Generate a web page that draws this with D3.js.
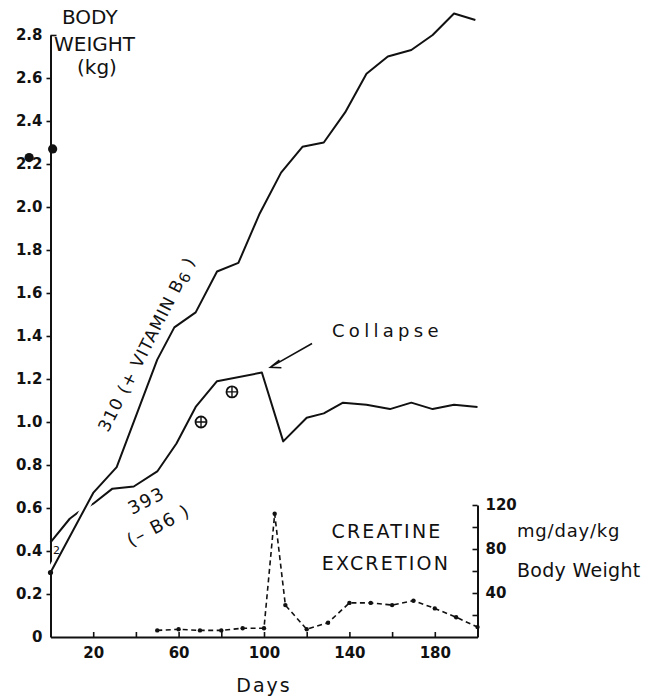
<!DOCTYPE html>
<html>
<head>
<meta charset="utf-8">
<script src="https://cdn.jsdelivr.net/npm/d3@7"></script>
<style>
  html, body { margin: 0; padding: 0; background: #fff; }
  svg { display: block; }
  text { font-family: "DejaVu Sans", sans-serif; fill: #111; }
</style>
</head>
<body>
<svg id="chart" width="651" height="698"></svg>
<script>
// Body weight (kg) of animal 310, fed with vitamin B6
const days310   = [0, 20, 31, 50, 58, 68, 78, 88, 98, 108, 118, 128, 138, 148, 158, 169, 179, 189, 199];
const weight310 = [0.30, 0.67, 0.79, 1.29, 1.44, 1.51, 1.70, 1.74, 1.97, 2.16, 2.28, 2.30, 2.44, 2.62, 2.70, 2.73, 2.80, 2.90, 2.87];

// Body weight (kg) of animal 393, deprived of vitamin B6
const days393   = [0, 9, 13, 20, 29, 39, 50, 59, 68, 78, 99, 109, 120, 128, 137, 148, 159, 169, 179, 189, 200];
const weight393 = [0.44, 0.55, 0.58, 0.62, 0.69, 0.70, 0.77, 0.90, 1.07, 1.19, 1.23, 0.91, 1.02, 1.04, 1.09, 1.08, 1.06, 1.09, 1.06, 1.08, 1.07];

// Creatine excretion of animal 393, mg/day/kg body weight
const creatineDays   = [50, 60, 70, 80, 90, 100, 105, 110, 120, 130, 140, 150, 160, 170, 180, 190, 200];
const creatineValues = [6, 7, 6, 6, 8, 8, 112, 29, 7, 13, 31, 31, 29, 33, 26, 18, 9];

// Single observations drawn as separate symbols
const solidDotDays    = [-10, 1];
const solidDotWeights = [2.23, 2.27];
const crossDotDays    = [70.5, 85];
const crossDotWeights = [1.00, 1.14];

// Axis ticks and labels
const weightTicks        = [0, 0.2, 0.4, 0.6, 0.8, 1.0, 1.2, 1.4, 1.6, 1.8, 2.0, 2.2, 2.4, 2.6, 2.8];
const dayTicks           = [20, 40, 60, 80, 100, 120, 140, 160, 180];
const dayTickLabels      = [20, 60, 100, 140, 180];
const creatineTicks      = [20, 40, 60, 80, 100, 120];
const creatineTickLabels = [40, 80, 120];

const ink = "#111";
const svg = d3.select("#chart").style("color", ink);

const x  = d3.scaleLinear().domain([0, 200]).range([50.5, 477.5]);
const y  = d3.scaleLinear().domain([0, 2.8]).range([637, 35]);
const yc = d3.scaleLinear().domain([0, 120]).range([637, 505]);

function styleAxis(g) {
  g.attr("font-family", "DejaVu Sans").attr("font-size", 15).attr("font-weight", "bold");
  g.select(".domain").attr("stroke-width", 2);
  g.selectAll(".tick line").attr("stroke-width", 1.6);
}

// Left axis: body weight
const yAxis = svg.append("g")
  .attr("transform", `translate(${x(0)},0)`)
  .call(d3.axisLeft(y).tickValues(weightTicks).tickSize(4).tickPadding(4).tickSizeOuter(0)
    .tickFormat(d => d === 0 ? "0" : d3.format(".1f")(d)))
  .call(styleAxis);
yAxis.selectAll(".tick").filter(d => d === 0).select("line").remove();
yAxis.selectAll(".tick").filter(d => d === 2.8).select("line").attr("x2", 6);

// Bottom axis: days
svg.append("g")
  .attr("transform", `translate(0,${y(0)})`)
  .call(d3.axisBottom(x).tickValues(dayTicks).tickSize(-5).tickPadding(10).tickSizeOuter(0)
    .tickFormat(d => dayTickLabels.includes(d) ? d : ""))
  .call(styleAxis);

// Right axis: creatine excretion
svg.append("g")
  .attr("transform", `translate(${x(200)},0)`)
  .call(d3.axisRight(yc).tickValues(creatineTicks).tickSize(-5).tickPadding(8).tickSizeOuter(0)
    .tickFormat(d => creatineTickLabels.includes(d) ? d : ""))
  .call(styleAxis);

// Weight curves
const line = d3.line().x(d => x(d[0])).y(d => y(d[1]));
const pts393 = d3.zip(days393, weight393);
const pts310 = d3.zip(days310, weight310);

svg.append("path").attr("d", line(pts393))
  .attr("fill", "none").attr("stroke", ink).attr("stroke-width", 2).attr("stroke-linejoin", "round");
// white casing so curve 393 is interrupted where 310 crosses it
svg.append("path").attr("d", line(pts310))
  .attr("fill", "none").attr("stroke", "#fff").attr("stroke-width", 8).attr("stroke-linejoin", "round");
svg.append("path").attr("d", line(pts310))
  .attr("fill", "none").attr("stroke", ink).attr("stroke-width", 2).attr("stroke-linejoin", "round");
svg.append("circle").attr("cx", x(days310[0])).attr("cy", y(weight310[0])).attr("r", 2.6).attr("fill", ink);

// Creatine curve
const cLine = d3.line().x(d => x(d[0])).y(d => yc(d[1]));
const ptsC = d3.zip(creatineDays, creatineValues);
svg.append("path").attr("d", cLine(ptsC))
  .attr("fill", "none").attr("stroke", ink).attr("stroke-width", 1.6).attr("stroke-dasharray", "5,3.5");
svg.append("g").selectAll("circle").data(ptsC).join("circle")
  .attr("cx", d => x(d[0])).attr("cy", d => yc(d[1])).attr("r", 2.2).attr("fill", ink);

// Solid symbols
svg.append("g").selectAll("circle").data(d3.zip(solidDotDays, solidDotWeights)).join("circle")
  .attr("cx", d => x(d[0])).attr("cy", d => y(d[1])).attr("r", 4.6).attr("fill", ink);

// Crossed circle symbols
const cross = svg.append("g").selectAll("g").data(d3.zip(crossDotDays, crossDotWeights)).join("g")
  .attr("transform", d => `translate(${x(d[0])},${y(d[1])})`);
cross.append("circle").attr("r", 5.5).attr("fill", "none").attr("stroke", ink).attr("stroke-width", 1.8);
cross.append("path").attr("d", "M-5.5,0H5.5M0,-5.5V5.5").attr("stroke", ink).attr("stroke-width", 1.4);

// Titles and annotations
const label = (txt, tx, ty, size, spacing, anchor) =>
  svg.append("text").attr("x", tx).attr("y", ty).attr("font-size", size)
    .attr("letter-spacing", spacing || 0).attr("text-anchor", anchor || "start").text(txt);

label("BODY", 62, 24, 20);
label("WEIGHT", 54, 51, 20);
label("(kg)", 77, 74, 20);
label("Days", 264, 692, 19, 2, "middle");
label("CREATINE", 387, 538, 19, 2.2, "middle");
label("EXCRETION", 386, 570, 19, 2.2, "middle");
label("mg/day/kg", 517, 537, 18, 0.8);
label("Body Weight", 517, 577, 19, 0.3);
label("Collapse", 332, 337, 18, 4.3);
svg.append("text").attr("x", 53).attr("y", 554).attr("font-size", 11).text("2");

// Collapse arrow
const tip = [x(103), y(1.255)];
const tail = [x(122.5), y(1.365)];
svg.append("path")
  .attr("d", `M${tail[0]},${tail[1]}L${tip[0]},${tip[1]}M${tip[0] + 11},${tip[1] + 0.5}L${tip[0]},${tip[1]}L${tip[0] + 9},${tip[1] - 7}`)
  .attr("fill", "none").attr("stroke", ink).attr("stroke-width", 1.6);

// Rotated curve labels
const lab310 = svg.append("text").attr("transform", "translate(108,433) rotate(-63)")
  .attr("font-size", 17).attr("letter-spacing", 1.1);
lab310.append("tspan").text("310 (+ VITAMIN B");
lab310.append("tspan").attr("dy", 3).attr("font-size", 15).text("6");
lab310.append("tspan").attr("dy", -3).text(" )");

svg.append("text").attr("transform", "translate(132,515) rotate(-27)")
  .attr("font-size", 18).attr("letter-spacing", 1.5).text("393");
svg.append("text").attr("transform", "translate(131,547) rotate(-28)")
  .attr("font-size", 18).attr("letter-spacing", 1.5).text("(\u2013 B6 )");
</script>
</body>
</html>
